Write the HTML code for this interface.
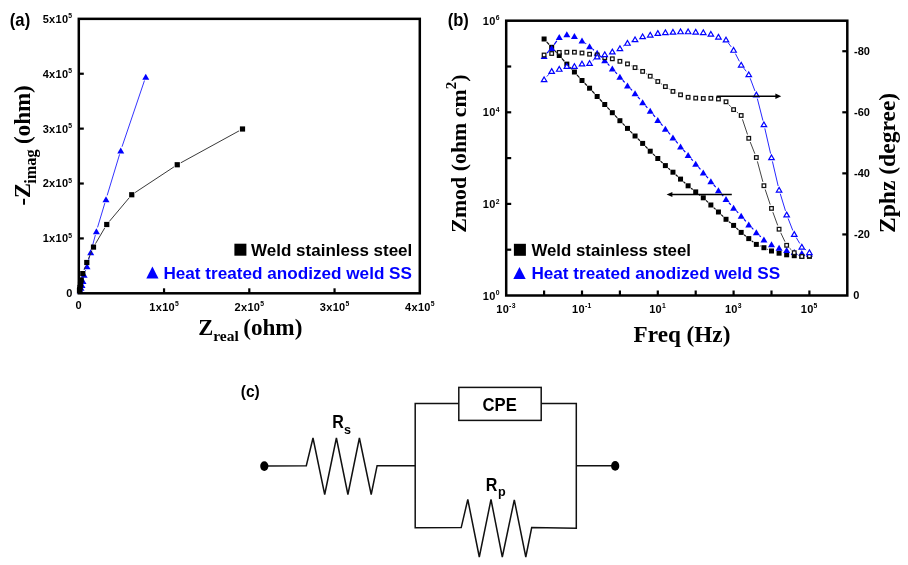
<!DOCTYPE html>
<html lang="en">
<head>
<meta charset="utf-8">
<title>EIS Nyquist, Bode plots and equivalent circuit</title>
<style>
html,body{margin:0;padding:0;background:#fff;}
body{width:908px;height:565px;overflow:hidden;}
svg{display:block;filter:blur(0.4px);}
text{white-space:pre;}
.sans{font-family:"Liberation Sans",Arial,sans-serif;font-weight:bold;}
.serif{font-family:"Liberation Serif","Times New Roman",serif;font-weight:bold;}
</style>
</head>
<body>
<svg width="908" height="565" viewBox="0 0 908 565">
<rect x="0" y="0" width="908" height="565" fill="#ffffff"/>
<g class="sans" fill="#000">
<text x="9.8" y="26.3" font-size="17.8" textLength="20.4" lengthAdjust="spacingAndGlyphs">(a)</text>
<text x="447.7" y="26.2" font-size="17.8" textLength="21.2" lengthAdjust="spacingAndGlyphs">(b)</text>
<text x="240.8" y="397" font-size="16.5" textLength="19" lengthAdjust="spacingAndGlyphs">(c)</text>
<path d="M144.47 80.54L122.03 146.71M119.59 154.33L107.16 195.42M104.85 203.08L97.55 227.37M95.36 235.06L91.74 248.44M89.68 256.17L88.02 262.43M85.71 270.09L85.39 271.01" fill="none" stroke="#0000ff" stroke-width="0.8"/>
<polygon points="145.75,73.75 149.25,79.75 142.25,79.75" fill="#0000ff"/>
<polygon points="120.75,147.5 124.25,153.5 117.25,153.5" fill="#0000ff"/>
<polygon points="106,196.25 109.5,202.25 102.5,202.25" fill="#0000ff"/>
<polygon points="96.4,228.2 99.9,234.2 92.9,234.2" fill="#0000ff"/>
<polygon points="90.7,249.3 94.2,255.3 87.2,255.3" fill="#0000ff"/>
<polygon points="87,263.3 90.5,269.3 83.5,269.3" fill="#0000ff"/>
<polygon points="84.1,271.8 87.6,277.8 80.6,277.8" fill="#0000ff"/>
<polygon points="83,277.9 86.5,283.9 79.5,283.9" fill="#0000ff"/>
<polygon points="82,281.9 85.5,287.9 78.5,287.9" fill="#0000ff"/>
<polygon points="81,284.8 84.5,290.8 77.5,290.8" fill="#0000ff"/>
<polygon points="80.2,287.4 83.7,293.4 76.7,293.4" fill="#0000ff"/>
<path d="M238.99 130.92L180.76 162.83M173.91 166.95L135.09 192.55M129.18 197.81L109.32 221.44M104.73 227.95L95.52 243.65M91.9 250.77L88.4 258.83M85.44 266.26L84.16 269.84" fill="none" stroke="#222" stroke-width="0.9"/>
<rect x="239.9" y="126.4" width="5.2" height="5.2" fill="#000"/>
<rect x="174.65" y="162.15" width="5.2" height="5.2" fill="#000"/>
<rect x="129.15" y="192.15" width="5.2" height="5.2" fill="#000"/>
<rect x="104.15" y="221.9" width="5.2" height="5.2" fill="#000"/>
<rect x="90.9" y="244.5" width="5.2" height="5.2" fill="#000"/>
<rect x="84.2" y="259.9" width="5.2" height="5.2" fill="#000"/>
<rect x="80.2" y="271" width="5.2" height="5.2" fill="#000"/>
<rect x="78.6" y="277.4" width="5.2" height="5.2" fill="#000"/>
<rect x="77.9" y="281.7" width="5.2" height="5.2" fill="#000"/>
<rect x="77.4" y="284.9" width="5.2" height="5.2" fill="#000"/>
<rect x="77.1" y="287" width="5.2" height="5.2" fill="#000"/>
<rect x="76.9" y="288" width="5.2" height="5.2" fill="#000"/>
<rect x="78.8" y="18.85" width="341" height="274.45" fill="none" stroke="#000" stroke-width="2.5"/>
<text x="72.6" y="297" text-anchor="end" font-size="11.0" letter-spacing="0.3">0</text>
<line x1="78.8" y1="238.41" x2="83.8" y2="238.41" stroke="#000" stroke-width="2.2"/>
<text x="72.4" y="242.31" text-anchor="end" font-size="11.0" letter-spacing="0.3">1x10<tspan font-size="6.8" dy="-4.3">5</tspan></text>
<line x1="78.8" y1="183.52" x2="83.8" y2="183.52" stroke="#000" stroke-width="2.2"/>
<text x="72.4" y="187.42" text-anchor="end" font-size="11.0" letter-spacing="0.3">2x10<tspan font-size="6.8" dy="-4.3">5</tspan></text>
<line x1="78.8" y1="128.63" x2="83.8" y2="128.63" stroke="#000" stroke-width="2.2"/>
<text x="72.4" y="132.53" text-anchor="end" font-size="11.0" letter-spacing="0.3">3x10<tspan font-size="6.8" dy="-4.3">5</tspan></text>
<line x1="78.8" y1="73.74" x2="83.8" y2="73.74" stroke="#000" stroke-width="2.2"/>
<text x="72.4" y="77.64" text-anchor="end" font-size="11.0" letter-spacing="0.3">4x10<tspan font-size="6.8" dy="-4.3">5</tspan></text>
<text x="72.4" y="22.75" text-anchor="end" font-size="11.0" letter-spacing="0.3">5x10<tspan font-size="6.8" dy="-4.3">5</tspan></text>
<text x="78.8" y="308.5" text-anchor="middle" font-size="11.0" letter-spacing="0.3">0</text>
<line x1="164.05" y1="293.3" x2="164.05" y2="288.3" stroke="#000" stroke-width="2.2"/>
<text x="164.25" y="310.7" text-anchor="middle" font-size="11.0" letter-spacing="0.3">1x10<tspan font-size="6.8" dy="-4.3">5</tspan></text>
<line x1="249.3" y1="293.3" x2="249.3" y2="288.3" stroke="#000" stroke-width="2.2"/>
<text x="249.5" y="310.7" text-anchor="middle" font-size="11.0" letter-spacing="0.3">2x10<tspan font-size="6.8" dy="-4.3">5</tspan></text>
<line x1="334.55" y1="293.3" x2="334.55" y2="288.3" stroke="#000" stroke-width="2.2"/>
<text x="334.75" y="310.7" text-anchor="middle" font-size="11.0" letter-spacing="0.3">3x10<tspan font-size="6.8" dy="-4.3">5</tspan></text>
<text x="420" y="310.7" text-anchor="middle" font-size="11.0" letter-spacing="0.3">4x10<tspan font-size="6.8" dy="-4.3">5</tspan></text>
<rect x="234.4" y="243.7" width="12" height="12" fill="#000"/>
<text x="251.1" y="255.9" font-size="16.8" textLength="161.2" lengthAdjust="spacingAndGlyphs">Weld stainless steel</text>
<polygon points="152.4,266.6 158.5,278.4 146.3,278.4" fill="#0000ff"/>
<text x="163.4" y="278.7" font-size="16.8" fill="#0000ff" textLength="248.6" lengthAdjust="spacingAndGlyphs">Heat treated anodized weld SS</text>
<path d="M546.66 41.81L549.12 44.49M554.26 50.09L556.68 52.71M561.77 58.35L564.33 61.25M569.47 66.84L571.79 69.26M576.95 74.84L579.47 77.66M584.67 83.21L586.91 85.49M592.14 91.01L594.6 93.69M599.77 99.26L602.13 101.74M607.32 107.29L609.74 109.91M614.93 115.46L617.29 117.94M622.57 123.41L624.81 125.69M630.16 131.09L632.38 133.31M637.78 138.65L639.92 140.75M645.29 146.13L647.57 148.47M652.96 153.84L655.06 155.86M660.57 161.1L662.61 163M668.25 168.1L670.09 169.7M675.77 174.76L677.73 176.54M683.39 181.62L685.27 183.28M691.08 188.18L692.74 189.52M698.7 194.23L700.28 195.47M706.04 200.42L708.1 202.38M713.65 207.58L715.65 209.42M721.18 214.64L723.28 216.66M728.98 221.68L730.64 223.02M736.39 227.98L738.39 229.82M744.12 234.81L745.82 236.19M751.78 240.91L753.32 242.09M759.82 245.92L760.44 246.18M767.4 249.22L768.02 249.48" fill="none" stroke="#111" stroke-width="1.2"/>
<rect x="541.6" y="36.5" width="5" height="5" fill="#000"/>
<rect x="549.18" y="44.8" width="5" height="5" fill="#000"/>
<rect x="556.76" y="53" width="5" height="5" fill="#000"/>
<rect x="564.34" y="61.6" width="5" height="5" fill="#000"/>
<rect x="571.92" y="69.5" width="5" height="5" fill="#000"/>
<rect x="579.5" y="78" width="5" height="5" fill="#000"/>
<rect x="587.08" y="85.7" width="5" height="5" fill="#000"/>
<rect x="594.66" y="94" width="5" height="5" fill="#000"/>
<rect x="602.24" y="102" width="5" height="5" fill="#000"/>
<rect x="609.82" y="110.2" width="5" height="5" fill="#000"/>
<rect x="617.4" y="118.2" width="5" height="5" fill="#000"/>
<rect x="624.98" y="125.9" width="5" height="5" fill="#000"/>
<rect x="632.56" y="133.5" width="5" height="5" fill="#000"/>
<rect x="640.14" y="140.9" width="5" height="5" fill="#000"/>
<rect x="647.72" y="148.7" width="5" height="5" fill="#000"/>
<rect x="655.3" y="156" width="5" height="5" fill="#000"/>
<rect x="662.88" y="163.1" width="5" height="5" fill="#000"/>
<rect x="670.46" y="169.7" width="5" height="5" fill="#000"/>
<rect x="678.04" y="176.6" width="5" height="5" fill="#000"/>
<rect x="685.62" y="183.3" width="5" height="5" fill="#000"/>
<rect x="693.2" y="189.4" width="5" height="5" fill="#000"/>
<rect x="700.78" y="195.3" width="5" height="5" fill="#000"/>
<rect x="708.36" y="202.5" width="5" height="5" fill="#000"/>
<rect x="715.94" y="209.5" width="5" height="5" fill="#000"/>
<rect x="723.52" y="216.8" width="5" height="5" fill="#000"/>
<rect x="731.1" y="222.9" width="5" height="5" fill="#000"/>
<rect x="738.68" y="229.9" width="5" height="5" fill="#000"/>
<rect x="746.26" y="236.1" width="5" height="5" fill="#000"/>
<rect x="753.84" y="241.9" width="5" height="5" fill="#000"/>
<rect x="761.42" y="245.2" width="5" height="5" fill="#000"/>
<rect x="769" y="248.5" width="5" height="5" fill="#000"/>
<rect x="776.58" y="250.7" width="5" height="5" fill="#000"/>
<rect x="784.16" y="252.3" width="5" height="5" fill="#000"/>
<rect x="791.74" y="253.2" width="5" height="5" fill="#000"/>
<rect x="799.32" y="253.8" width="5" height="5" fill="#000"/>
<rect x="806.9" y="253.8" width="5" height="5" fill="#000"/>
<path d="M547.02 53.14L548.76 51.26M554.15 44.58L556.79 40.82M585.44 43.28L586.14 43.82M592.82 49.22L593.92 50.18M600.22 56.02L601.68 57.48M607.66 63.66L609.4 65.54M615.22 71.88L617 73.82M622.74 80.23L624.64 82.37M630.46 88.7L632.08 90.4M637.83 96.79L639.87 99.21M645.5 105.71L647.36 107.79M652.95 114.32L655.07 116.88M660.62 123.44L662.56 125.66M668.19 132.16L670.15 134.44M675.75 140.97L677.75 143.33M683.36 149.84L685.3 152.06M690.96 158.53L692.86 160.67M698.51 167.16L700.47 169.44M706.1 175.94L708.04 178.16M713.63 184.69L715.67 187.11M721.23 193.67L723.23 196.03M728.84 202.54L730.78 204.76M736.56 211.12L738.22 212.88M744.02 219.23L745.92 221.37M751.74 227.7L753.36 229.4M759.44 235.48L760.82 236.82" fill="none" stroke="#0000ff" stroke-width="1.2"/>
<polygon points="544.1,53.1 547.6,59.1 540.6,59.1" fill="#0000ff"/>
<polygon points="551.68,44.9 555.18,50.9 548.18,50.9" fill="#0000ff"/>
<polygon points="559.26,34.1 562.76,40.1 555.76,40.1" fill="#0000ff"/>
<polygon points="566.84,31.3 570.34,37.3 563.34,37.3" fill="#0000ff"/>
<polygon points="574.42,33 577.92,39 570.92,39" fill="#0000ff"/>
<polygon points="582,37.5 585.5,43.5 578.5,43.5" fill="#0000ff"/>
<polygon points="589.58,43.2 593.08,49.2 586.08,49.2" fill="#0000ff"/>
<polygon points="597.16,49.8 600.66,55.8 593.66,55.8" fill="#0000ff"/>
<polygon points="604.74,57.3 608.24,63.3 601.24,63.3" fill="#0000ff"/>
<polygon points="612.32,65.5 615.82,71.5 608.82,71.5" fill="#0000ff"/>
<polygon points="619.9,73.8 623.4,79.8 616.4,79.8" fill="#0000ff"/>
<polygon points="627.48,82.4 630.98,88.4 623.98,88.4" fill="#0000ff"/>
<polygon points="635.06,90.3 638.56,96.3 631.56,96.3" fill="#0000ff"/>
<polygon points="642.64,99.3 646.14,105.3 639.14,105.3" fill="#0000ff"/>
<polygon points="650.22,107.8 653.72,113.8 646.72,113.8" fill="#0000ff"/>
<polygon points="657.8,117 661.3,123 654.3,123" fill="#0000ff"/>
<polygon points="665.38,125.7 668.88,131.7 661.88,131.7" fill="#0000ff"/>
<polygon points="672.96,134.5 676.46,140.5 669.46,140.5" fill="#0000ff"/>
<polygon points="680.54,143.4 684.04,149.4 677.04,149.4" fill="#0000ff"/>
<polygon points="688.12,152.1 691.62,158.1 684.62,158.1" fill="#0000ff"/>
<polygon points="695.7,160.7 699.2,166.7 692.2,166.7" fill="#0000ff"/>
<polygon points="703.28,169.5 706.78,175.5 699.78,175.5" fill="#0000ff"/>
<polygon points="710.86,178.2 714.36,184.2 707.36,184.2" fill="#0000ff"/>
<polygon points="718.44,187.2 721.94,193.2 714.94,193.2" fill="#0000ff"/>
<polygon points="726.02,196.1 729.52,202.1 722.52,202.1" fill="#0000ff"/>
<polygon points="733.6,204.8 737.1,210.8 730.1,210.8" fill="#0000ff"/>
<polygon points="741.18,212.8 744.68,218.8 737.68,218.8" fill="#0000ff"/>
<polygon points="748.76,221.4 752.26,227.4 745.26,227.4" fill="#0000ff"/>
<polygon points="756.34,229.3 759.84,235.3 752.84,235.3" fill="#0000ff"/>
<polygon points="763.92,236.6 767.42,242.6 760.42,242.6" fill="#0000ff"/>
<polygon points="771.5,241.2 775,247.2 768,247.2" fill="#0000ff"/>
<polygon points="779.08,244.8 782.58,250.8 775.58,250.8" fill="#0000ff"/>
<polygon points="786.66,247 790.16,253 783.16,253" fill="#0000ff"/>
<polygon points="794.24,249 797.74,255 790.74,255" fill="#0000ff"/>
<polygon points="801.82,250 805.32,256 798.32,256" fill="#0000ff"/>
<polygon points="809.4,250.8 812.9,256.8 805.9,256.8" fill="#0000ff"/>
<path d="M631.07 65.65L631.47 65.85M638.64 69.39L639.06 69.61M646.02 73.54L646.84 74.06M653.5 78.49L654.52 79.21M661.12 83.73L662.06 84.37M668.76 88.74L669.58 89.26M676.61 93.04L676.89 93.16M728.81 104.67L730.81 106.73M736.76 112.06L738.02 113.04M742.44 119.3L747.5 134.5M750.23 142.02L754.87 153.78M757.38 161.36L762.88 181.84M765.19 189.49L770.23 204.61M772.87 212.16L777.71 225.44M780.78 232.82L784.96 241.68M789.52 248.09L791.38 249.91M797.82 254.49L798.24 254.71" fill="none" stroke="#222" stroke-width="0.85"/>
<rect x="542.3" y="53.2" width="3.6" height="3.6" fill="#fff" stroke="#111" stroke-width="1.25"/>
<rect x="549.88" y="51.7" width="3.6" height="3.6" fill="#fff" stroke="#111" stroke-width="1.25"/>
<rect x="557.46" y="50.6" width="3.6" height="3.6" fill="#fff" stroke="#111" stroke-width="1.25"/>
<rect x="565.04" y="50.4" width="3.6" height="3.6" fill="#fff" stroke="#111" stroke-width="1.25"/>
<rect x="572.62" y="50.4" width="3.6" height="3.6" fill="#fff" stroke="#111" stroke-width="1.25"/>
<rect x="580.2" y="51.2" width="3.6" height="3.6" fill="#fff" stroke="#111" stroke-width="1.25"/>
<rect x="587.78" y="52.4" width="3.6" height="3.6" fill="#fff" stroke="#111" stroke-width="1.25"/>
<rect x="595.36" y="53.2" width="3.6" height="3.6" fill="#fff" stroke="#111" stroke-width="1.25"/>
<rect x="602.94" y="55.9" width="3.6" height="3.6" fill="#fff" stroke="#111" stroke-width="1.25"/>
<rect x="610.52" y="57" width="3.6" height="3.6" fill="#fff" stroke="#111" stroke-width="1.25"/>
<rect x="618.1" y="59.5" width="3.6" height="3.6" fill="#fff" stroke="#111" stroke-width="1.25"/>
<rect x="625.68" y="62.1" width="3.6" height="3.6" fill="#fff" stroke="#111" stroke-width="1.25"/>
<rect x="633.26" y="65.8" width="3.6" height="3.6" fill="#fff" stroke="#111" stroke-width="1.25"/>
<rect x="640.84" y="69.6" width="3.6" height="3.6" fill="#fff" stroke="#111" stroke-width="1.25"/>
<rect x="648.42" y="74.4" width="3.6" height="3.6" fill="#fff" stroke="#111" stroke-width="1.25"/>
<rect x="656" y="79.7" width="3.6" height="3.6" fill="#fff" stroke="#111" stroke-width="1.25"/>
<rect x="663.58" y="84.8" width="3.6" height="3.6" fill="#fff" stroke="#111" stroke-width="1.25"/>
<rect x="671.16" y="89.6" width="3.6" height="3.6" fill="#fff" stroke="#111" stroke-width="1.25"/>
<rect x="678.74" y="93" width="3.6" height="3.6" fill="#fff" stroke="#111" stroke-width="1.25"/>
<rect x="686.32" y="95.5" width="3.6" height="3.6" fill="#fff" stroke="#111" stroke-width="1.25"/>
<rect x="693.9" y="96.3" width="3.6" height="3.6" fill="#fff" stroke="#111" stroke-width="1.25"/>
<rect x="701.48" y="96.7" width="3.6" height="3.6" fill="#fff" stroke="#111" stroke-width="1.25"/>
<rect x="709.06" y="96.5" width="3.6" height="3.6" fill="#fff" stroke="#111" stroke-width="1.25"/>
<rect x="716.64" y="97.2" width="3.6" height="3.6" fill="#fff" stroke="#111" stroke-width="1.25"/>
<rect x="724.22" y="100" width="3.6" height="3.6" fill="#fff" stroke="#111" stroke-width="1.25"/>
<rect x="731.8" y="107.8" width="3.6" height="3.6" fill="#fff" stroke="#111" stroke-width="1.25"/>
<rect x="739.38" y="113.7" width="3.6" height="3.6" fill="#fff" stroke="#111" stroke-width="1.25"/>
<rect x="746.96" y="136.5" width="3.6" height="3.6" fill="#fff" stroke="#111" stroke-width="1.25"/>
<rect x="754.54" y="155.7" width="3.6" height="3.6" fill="#fff" stroke="#111" stroke-width="1.25"/>
<rect x="762.12" y="183.9" width="3.6" height="3.6" fill="#fff" stroke="#111" stroke-width="1.25"/>
<rect x="769.7" y="206.6" width="3.6" height="3.6" fill="#fff" stroke="#111" stroke-width="1.25"/>
<rect x="777.28" y="227.4" width="3.6" height="3.6" fill="#fff" stroke="#111" stroke-width="1.25"/>
<rect x="784.86" y="243.5" width="3.6" height="3.6" fill="#fff" stroke="#111" stroke-width="1.25"/>
<rect x="792.44" y="250.9" width="3.6" height="3.6" fill="#fff" stroke="#111" stroke-width="1.25"/>
<rect x="800.02" y="254.7" width="3.6" height="3.6" fill="#fff" stroke="#111" stroke-width="1.25"/>
<rect x="807.6" y="254.2" width="3.6" height="3.6" fill="#fff" stroke="#111" stroke-width="1.25"/>
<path d="M546.8 76.55L548.98 74.15M592.6 60.67L594.14 59.33M623.18 46.11L624.2 45.39M631.09 41.38L631.45 41.22M728.39 43.02L731.23 46.88M735.42 53.66L739.36 61.34M743.66 68.04L746.28 71.36M750.17 78.25L754.93 90.95M757.33 98.58L762.93 120.62M764.82 128.4L770.6 153.6M772.41 161.39L778.17 186.01M780.25 193.73L785.49 210.87M788.11 218.43L792.79 230.47M796.29 237.63L799.77 243.47M805.06 249.25L806.16 250.05" fill="none" stroke="#0000ff" stroke-width="0.85"/>
<polygon points="544.1,76.95 546.85,81.65 541.35,81.65" fill="#fff" stroke="#0000ff" stroke-width="1.2" stroke-linejoin="miter"/>
<polygon points="551.68,68.65 554.43,73.35 548.93,73.35" fill="#fff" stroke="#0000ff" stroke-width="1.2" stroke-linejoin="miter"/>
<polygon points="559.26,66.55 562.01,71.25 556.51,71.25" fill="#fff" stroke="#0000ff" stroke-width="1.2" stroke-linejoin="miter"/>
<polygon points="566.84,63.75 569.59,68.45 564.09,68.45" fill="#fff" stroke="#0000ff" stroke-width="1.2" stroke-linejoin="miter"/>
<polygon points="574.42,63.75 577.17,68.45 571.67,68.45" fill="#fff" stroke="#0000ff" stroke-width="1.2" stroke-linejoin="miter"/>
<polygon points="582,61.25 584.75,65.95 579.25,65.95" fill="#fff" stroke="#0000ff" stroke-width="1.2" stroke-linejoin="miter"/>
<polygon points="589.58,60.75 592.33,65.45 586.83,65.45" fill="#fff" stroke="#0000ff" stroke-width="1.2" stroke-linejoin="miter"/>
<polygon points="597.16,54.15 599.91,58.85 594.41,58.85" fill="#fff" stroke="#0000ff" stroke-width="1.2" stroke-linejoin="miter"/>
<polygon points="604.74,51.85 607.49,56.55 601.99,56.55" fill="#fff" stroke="#0000ff" stroke-width="1.2" stroke-linejoin="miter"/>
<polygon points="612.32,49.15 615.07,53.85 609.57,53.85" fill="#fff" stroke="#0000ff" stroke-width="1.2" stroke-linejoin="miter"/>
<polygon points="619.9,45.85 622.65,50.55 617.15,50.55" fill="#fff" stroke="#0000ff" stroke-width="1.2" stroke-linejoin="miter"/>
<polygon points="627.48,40.55 630.23,45.25 624.73,45.25" fill="#fff" stroke="#0000ff" stroke-width="1.2" stroke-linejoin="miter"/>
<polygon points="635.06,36.95 637.81,41.65 632.31,41.65" fill="#fff" stroke="#0000ff" stroke-width="1.2" stroke-linejoin="miter"/>
<polygon points="642.64,33.95 645.39,38.65 639.89,38.65" fill="#fff" stroke="#0000ff" stroke-width="1.2" stroke-linejoin="miter"/>
<polygon points="650.22,32.35 652.97,37.05 647.47,37.05" fill="#fff" stroke="#0000ff" stroke-width="1.2" stroke-linejoin="miter"/>
<polygon points="657.8,30.65 660.55,35.35 655.05,35.35" fill="#fff" stroke="#0000ff" stroke-width="1.2" stroke-linejoin="miter"/>
<polygon points="665.38,29.85 668.13,34.55 662.63,34.55" fill="#fff" stroke="#0000ff" stroke-width="1.2" stroke-linejoin="miter"/>
<polygon points="672.96,29.45 675.71,34.15 670.21,34.15" fill="#fff" stroke="#0000ff" stroke-width="1.2" stroke-linejoin="miter"/>
<polygon points="680.54,29.05 683.29,33.75 677.79,33.75" fill="#fff" stroke="#0000ff" stroke-width="1.2" stroke-linejoin="miter"/>
<polygon points="688.12,29.05 690.87,33.75 685.37,33.75" fill="#fff" stroke="#0000ff" stroke-width="1.2" stroke-linejoin="miter"/>
<polygon points="695.7,29.35 698.45,34.05 692.95,34.05" fill="#fff" stroke="#0000ff" stroke-width="1.2" stroke-linejoin="miter"/>
<polygon points="703.28,29.85 706.03,34.55 700.53,34.55" fill="#fff" stroke="#0000ff" stroke-width="1.2" stroke-linejoin="miter"/>
<polygon points="710.86,31.45 713.61,36.15 708.11,36.15" fill="#fff" stroke="#0000ff" stroke-width="1.2" stroke-linejoin="miter"/>
<polygon points="718.44,34.35 721.19,39.05 715.69,39.05" fill="#fff" stroke="#0000ff" stroke-width="1.2" stroke-linejoin="miter"/>
<polygon points="726.02,37.25 728.77,41.95 723.27,41.95" fill="#fff" stroke="#0000ff" stroke-width="1.2" stroke-linejoin="miter"/>
<polygon points="733.6,47.55 736.35,52.25 730.85,52.25" fill="#fff" stroke="#0000ff" stroke-width="1.2" stroke-linejoin="miter"/>
<polygon points="741.18,62.35 743.93,67.05 738.43,67.05" fill="#fff" stroke="#0000ff" stroke-width="1.2" stroke-linejoin="miter"/>
<polygon points="748.76,71.95 751.51,76.65 746.01,76.65" fill="#fff" stroke="#0000ff" stroke-width="1.2" stroke-linejoin="miter"/>
<polygon points="756.34,92.15 759.09,96.85 753.59,96.85" fill="#fff" stroke="#0000ff" stroke-width="1.2" stroke-linejoin="miter"/>
<polygon points="763.92,121.95 766.67,126.65 761.17,126.65" fill="#fff" stroke="#0000ff" stroke-width="1.2" stroke-linejoin="miter"/>
<polygon points="771.5,154.95 774.25,159.65 768.75,159.65" fill="#fff" stroke="#0000ff" stroke-width="1.2" stroke-linejoin="miter"/>
<polygon points="779.08,187.35 781.83,192.05 776.33,192.05" fill="#fff" stroke="#0000ff" stroke-width="1.2" stroke-linejoin="miter"/>
<polygon points="786.66,212.15 789.41,216.85 783.91,216.85" fill="#fff" stroke="#0000ff" stroke-width="1.2" stroke-linejoin="miter"/>
<polygon points="794.24,231.65 796.99,236.35 791.49,236.35" fill="#fff" stroke="#0000ff" stroke-width="1.2" stroke-linejoin="miter"/>
<polygon points="801.82,244.35 804.57,249.05 799.07,249.05" fill="#fff" stroke="#0000ff" stroke-width="1.2" stroke-linejoin="miter"/>
<polygon points="809.4,249.85 812.15,254.55 806.65,254.55" fill="#fff" stroke="#0000ff" stroke-width="1.2" stroke-linejoin="miter"/>
<line x1="716.6" y1="96.3" x2="777" y2="96.3" stroke="#000" stroke-width="1.5"/>
<polygon points="781.2,96.3 775.4,93.6 775.4,99" fill="#000"/>
<line x1="731.8" y1="194.5" x2="671" y2="194.5" stroke="#000" stroke-width="1.5"/>
<polygon points="666.6,194.5 672.4,191.9 672.4,197.1" fill="#000"/>
<rect x="506.2" y="20.7" width="341.1" height="274.8" fill="none" stroke="#000" stroke-width="2.5"/>
<text x="499.8" y="299.5" text-anchor="end" font-size="11.0" letter-spacing="0.3">10<tspan font-size="6.8" dy="-4.3">0</tspan></text>
<line x1="506.2" y1="249.7" x2="511.2" y2="249.7" stroke="#000" stroke-width="2.2"/>
<line x1="506.2" y1="203.9" x2="511.2" y2="203.9" stroke="#000" stroke-width="2.2"/>
<text x="499.8" y="207.9" text-anchor="end" font-size="11.0" letter-spacing="0.3">10<tspan font-size="6.8" dy="-4.3">2</tspan></text>
<line x1="506.2" y1="158.1" x2="511.2" y2="158.1" stroke="#000" stroke-width="2.2"/>
<line x1="506.2" y1="112.3" x2="511.2" y2="112.3" stroke="#000" stroke-width="2.2"/>
<text x="499.8" y="116.3" text-anchor="end" font-size="11.0" letter-spacing="0.3">10<tspan font-size="6.8" dy="-4.3">4</tspan></text>
<line x1="506.2" y1="66.5" x2="511.2" y2="66.5" stroke="#000" stroke-width="2.2"/>
<text x="499.8" y="24.7" text-anchor="end" font-size="11.0" letter-spacing="0.3">10<tspan font-size="6.8" dy="-4.3">6</tspan></text>
<text x="506" y="312.5" text-anchor="middle" font-size="11.0" letter-spacing="0.3">10<tspan font-size="6.8" dy="-4.3">-3</tspan></text>
<line x1="544.1" y1="295.5" x2="544.1" y2="290.5" stroke="#000" stroke-width="2.2"/>
<line x1="582" y1="295.5" x2="582" y2="290.5" stroke="#000" stroke-width="2.2"/>
<text x="581.8" y="312.5" text-anchor="middle" font-size="11.0" letter-spacing="0.3">10<tspan font-size="6.8" dy="-4.3">-1</tspan></text>
<line x1="619.9" y1="295.5" x2="619.9" y2="290.5" stroke="#000" stroke-width="2.2"/>
<line x1="657.8" y1="295.5" x2="657.8" y2="290.5" stroke="#000" stroke-width="2.2"/>
<text x="657.6" y="312.5" text-anchor="middle" font-size="11.0" letter-spacing="0.3">10<tspan font-size="6.8" dy="-4.3">1</tspan></text>
<line x1="695.7" y1="295.5" x2="695.7" y2="290.5" stroke="#000" stroke-width="2.2"/>
<line x1="733.6" y1="295.5" x2="733.6" y2="290.5" stroke="#000" stroke-width="2.2"/>
<text x="733.4" y="312.5" text-anchor="middle" font-size="11.0" letter-spacing="0.3">10<tspan font-size="6.8" dy="-4.3">3</tspan></text>
<line x1="771.5" y1="295.5" x2="771.5" y2="290.5" stroke="#000" stroke-width="2.2"/>
<line x1="809.4" y1="295.5" x2="809.4" y2="290.5" stroke="#000" stroke-width="2.2"/>
<text x="809.2" y="312.5" text-anchor="middle" font-size="11.0" letter-spacing="0.3">10<tspan font-size="6.8" dy="-4.3">5</tspan></text>
<text x="853.2" y="299.3" text-anchor="start" font-size="11.0" letter-spacing="0.3">0</text>
<line x1="847.3" y1="234.43" x2="842.3" y2="234.43" stroke="#000" stroke-width="2.2"/>
<text x="854" y="238.23" text-anchor="start" font-size="11.0" letter-spacing="0">-20</text>
<line x1="847.3" y1="173.37" x2="842.3" y2="173.37" stroke="#000" stroke-width="2.2"/>
<text x="854" y="177.17" text-anchor="start" font-size="11.0" letter-spacing="0">-40</text>
<line x1="847.3" y1="112.3" x2="842.3" y2="112.3" stroke="#000" stroke-width="2.2"/>
<text x="854" y="116.1" text-anchor="start" font-size="11.0" letter-spacing="0">-60</text>
<line x1="847.3" y1="51.23" x2="842.3" y2="51.23" stroke="#000" stroke-width="2.2"/>
<text x="854" y="55.03" text-anchor="start" font-size="11.0" letter-spacing="0">-80</text>
<rect x="513.9" y="243.8" width="12" height="12" fill="#000"/>
<text x="531.4" y="255.9" font-size="16.8" textLength="159.6" lengthAdjust="spacingAndGlyphs">Weld stainless steel</text>
<polygon points="519.5,267.1 525.7,278.9 513.3,278.9" fill="#0000ff"/>
<text x="531.4" y="278.9" font-size="16.8" fill="#0000ff" textLength="248.8" lengthAdjust="spacingAndGlyphs">Heat treated anodized weld SS</text>
<g fill="none" stroke="#111" stroke-width="1.5" stroke-linejoin="miter">
<polyline points="264.3,465.9 306.3,465.7 313,438 324.7,494.5 336.4,438 347.9,494.5 359.4,438 371.2,494.5 377.1,465.7 415.2,465.7"/>
<polyline points="458.8,403.4 415.2,403.4 415.2,527.8 461.2,527.6 467.8,499.5 479.3,557 491,499.5 502.3,557 514.3,499.8 525.8,557 531.7,527.6 576.3,528.2 576.3,403.4 541.2,403.4"/>
<rect x="458.8" y="387.4" width="82.4" height="33"/>
<line x1="576.3" y1="465.8" x2="615" y2="465.8"/>
</g>
<ellipse cx="264.3" cy="466.1" rx="4.1" ry="4.9" fill="#000"/>
<ellipse cx="615.2" cy="465.9" rx="4.1" ry="4.9" fill="#000"/>
<text x="482.6" y="411.2" font-size="18.5" textLength="34.2" lengthAdjust="spacingAndGlyphs">CPE</text>
<text x="332.2" y="428" font-size="17.6" textLength="11.6" lengthAdjust="spacingAndGlyphs">R</text>
<text x="344" y="433.8" font-size="12.6">s</text>
<text x="485.7" y="490.6" font-size="17.6" textLength="11.6" lengthAdjust="spacingAndGlyphs">R</text>
<text x="498" y="495.6" font-size="12.6">p</text>
</g>
<g class="serif" fill="#000">
<text x="198.2" y="335.1" font-size="22.5">Z<tspan font-size="15.5" dy="6.2">real</tspan><tspan font-size="23.2" dy="-6.2" dx="4.4">(ohm)</tspan></text>
<text transform="translate(29.8,205.5) rotate(-90)" font-size="22.5">-Z<tspan font-size="16.3" dy="6.2" dx="-0.8">imag</tspan><tspan font-size="23" dy="-6.2" dx="5.4">(ohm)</tspan></text>
<text x="633.6" y="341.7" font-size="22.8" textLength="96.8" lengthAdjust="spacingAndGlyphs">Freq (Hz)</text>
<text transform="translate(465.5,232.7) rotate(-90)" font-size="22" textLength="158.2" lengthAdjust="spacingAndGlyphs">Zmod (ohm cm<tspan font-size="15" dy="-9.5">2</tspan><tspan dy="9.5">)</tspan></text>
<text transform="translate(894.6,233) rotate(-90)" font-size="22.8" textLength="140.2" lengthAdjust="spacingAndGlyphs">Zphz (degree)</text>
</g>
</svg>
</body>
</html>
